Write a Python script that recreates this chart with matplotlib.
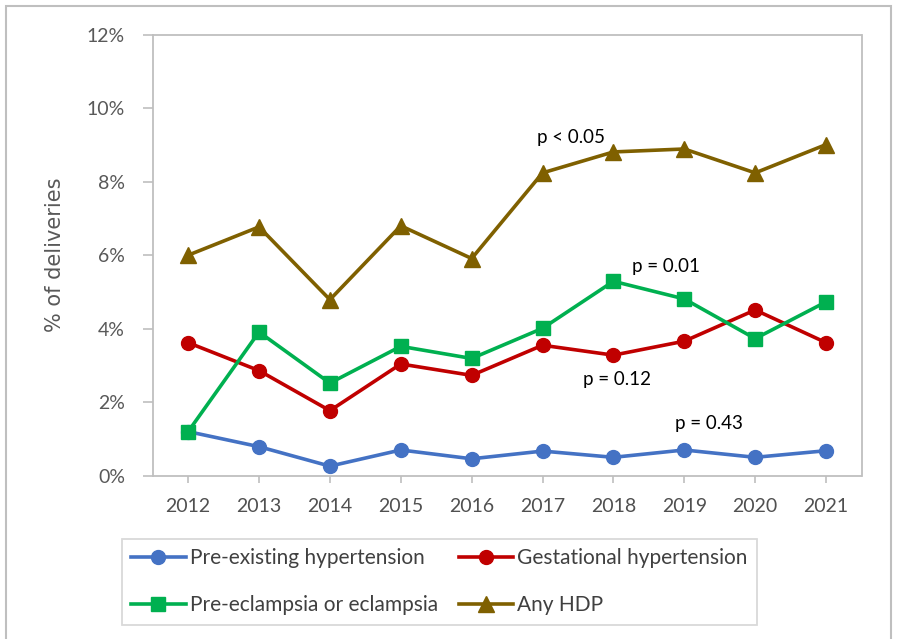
import matplotlib.pyplot as plt
from matplotlib.patches import Rectangle

# HDP trends by year, % of deliveries
years = ["2012", "2013", "2014", "2015", "2016", "2017", "2018", "2019", "2020", "2021"]
pre_existing = [1.20, 0.79, 0.26, 0.70, 0.46, 0.67, 0.50, 0.70, 0.50, 0.68]
gestational = [3.62, 2.86, 1.77, 3.04, 2.73, 3.55, 3.28, 3.66, 4.51, 3.62]
pre_eclampsia = [1.20, 3.91, 2.52, 3.52, 3.19, 4.01, 5.29, 4.81, 3.73, 4.73]
any_hdp = [6.00, 6.77, 4.79, 6.80, 5.91, 8.24, 8.81, 8.89, 8.24, 9.01]

# p-value labels: (text, x position in category units, y in %)
p_labels = [("p < 0.05", 5.40, 9.20),
            ("p = 0.01", 6.74, 5.69),
            ("p = 0.12", 6.05, 2.61),
            ("p = 0.43", 7.35, 1.41)]

yticks = [0, 2, 4, 6, 8, 10, 12]

plt.rcParams['font.family'] = ['Lato', 'DejaVu Sans']

fig = plt.figure(figsize=(9.02, 6.39), dpi=100)
ax = fig.add_axes([152.7 / 902, 1 - 475.7 / 639, (861.5 - 152.7) / 902, (475.7 - 34.7) / 639])

# outer chart frame
fig.patches.append(Rectangle((5.5 / 902, -0.1), (890.5 - 5.5) / 902, 1.1 - 6 / 639,
                             transform=fig.transFigure, fill=False,
                             edgecolor="#BFBFBF", linewidth=1.5))

x = list(range(len(years)))
lw = 2.6
l1, = ax.plot(x, pre_existing, color="#4472C4", lw=lw, marker="o", ms=10, label="Pre-existing hypertension")
l2, = ax.plot(x, gestational, color="#C00000", lw=lw, marker="o", ms=10, label="Gestational hypertension")
l3, = ax.plot(x, pre_eclampsia, color="#00B050", lw=lw, marker="s", ms=9.5, label="Pre-eclampsia or eclampsia")
l4, = ax.plot(x, any_hdp, color="#7F6000", lw=lw, marker="^", ms=11, label="Any HDP")

for txt, px, py in p_labels:
    ax.text(px, py, txt, fontsize=13.5, ha="center", va="center", color="black")

ax.set_xlim(-0.5, len(years) - 0.5)
ax.set_ylim(0, 12)
ax.set_xticks(x)
ax.set_xticklabels(years)
ax.set_yticks(yticks)
ax.set_yticklabels([f"{v}%" for v in yticks])

for side in ["left", "bottom", "top", "right"]:
    ax.spines[side].set_color("#BFBFBF")
    ax.spines[side].set_linewidth(1.3)

ax.tick_params(axis="x", length=5, width=1.2, color="#BFBFBF", pad=11,
               labelsize=14, labelcolor="#505050")
ax.tick_params(axis="y", length=7, width=1.2, color="#BFBFBF", pad=13,
               labelsize=14, labelcolor="#595959")

ax.set_ylabel("% of deliveries", fontsize=15, color="#595959", family="DejaVu Sans")
ax.yaxis.set_label_coords((65 - 152.7) / (861.5 - 152.7), 0.5)

# rows: pre-existing / gestational, then pre-eclampsia / any HDP
handles = [l1, l3, l2, l4]
leg = fig.legend(handles, [h.get_label() for h in handles],
                 loc="upper left", bbox_to_anchor=(122 / 902, 1 - 539 / 639),
                 bbox_transform=fig.transFigure, ncol=2, frameon=True, fancybox=False,
                 edgecolor="#D0D0D0", fontsize=15, handlelength=2.6, handletextpad=0.2,
                 columnspacing=1.0, labelspacing=1.3, borderpad=0.45, borderaxespad=0)
leg.get_frame().set_linewidth(1.3)
for t in leg.get_texts():
    t.set_color("#404040")

fig.savefig("out.png", dpi=100)
